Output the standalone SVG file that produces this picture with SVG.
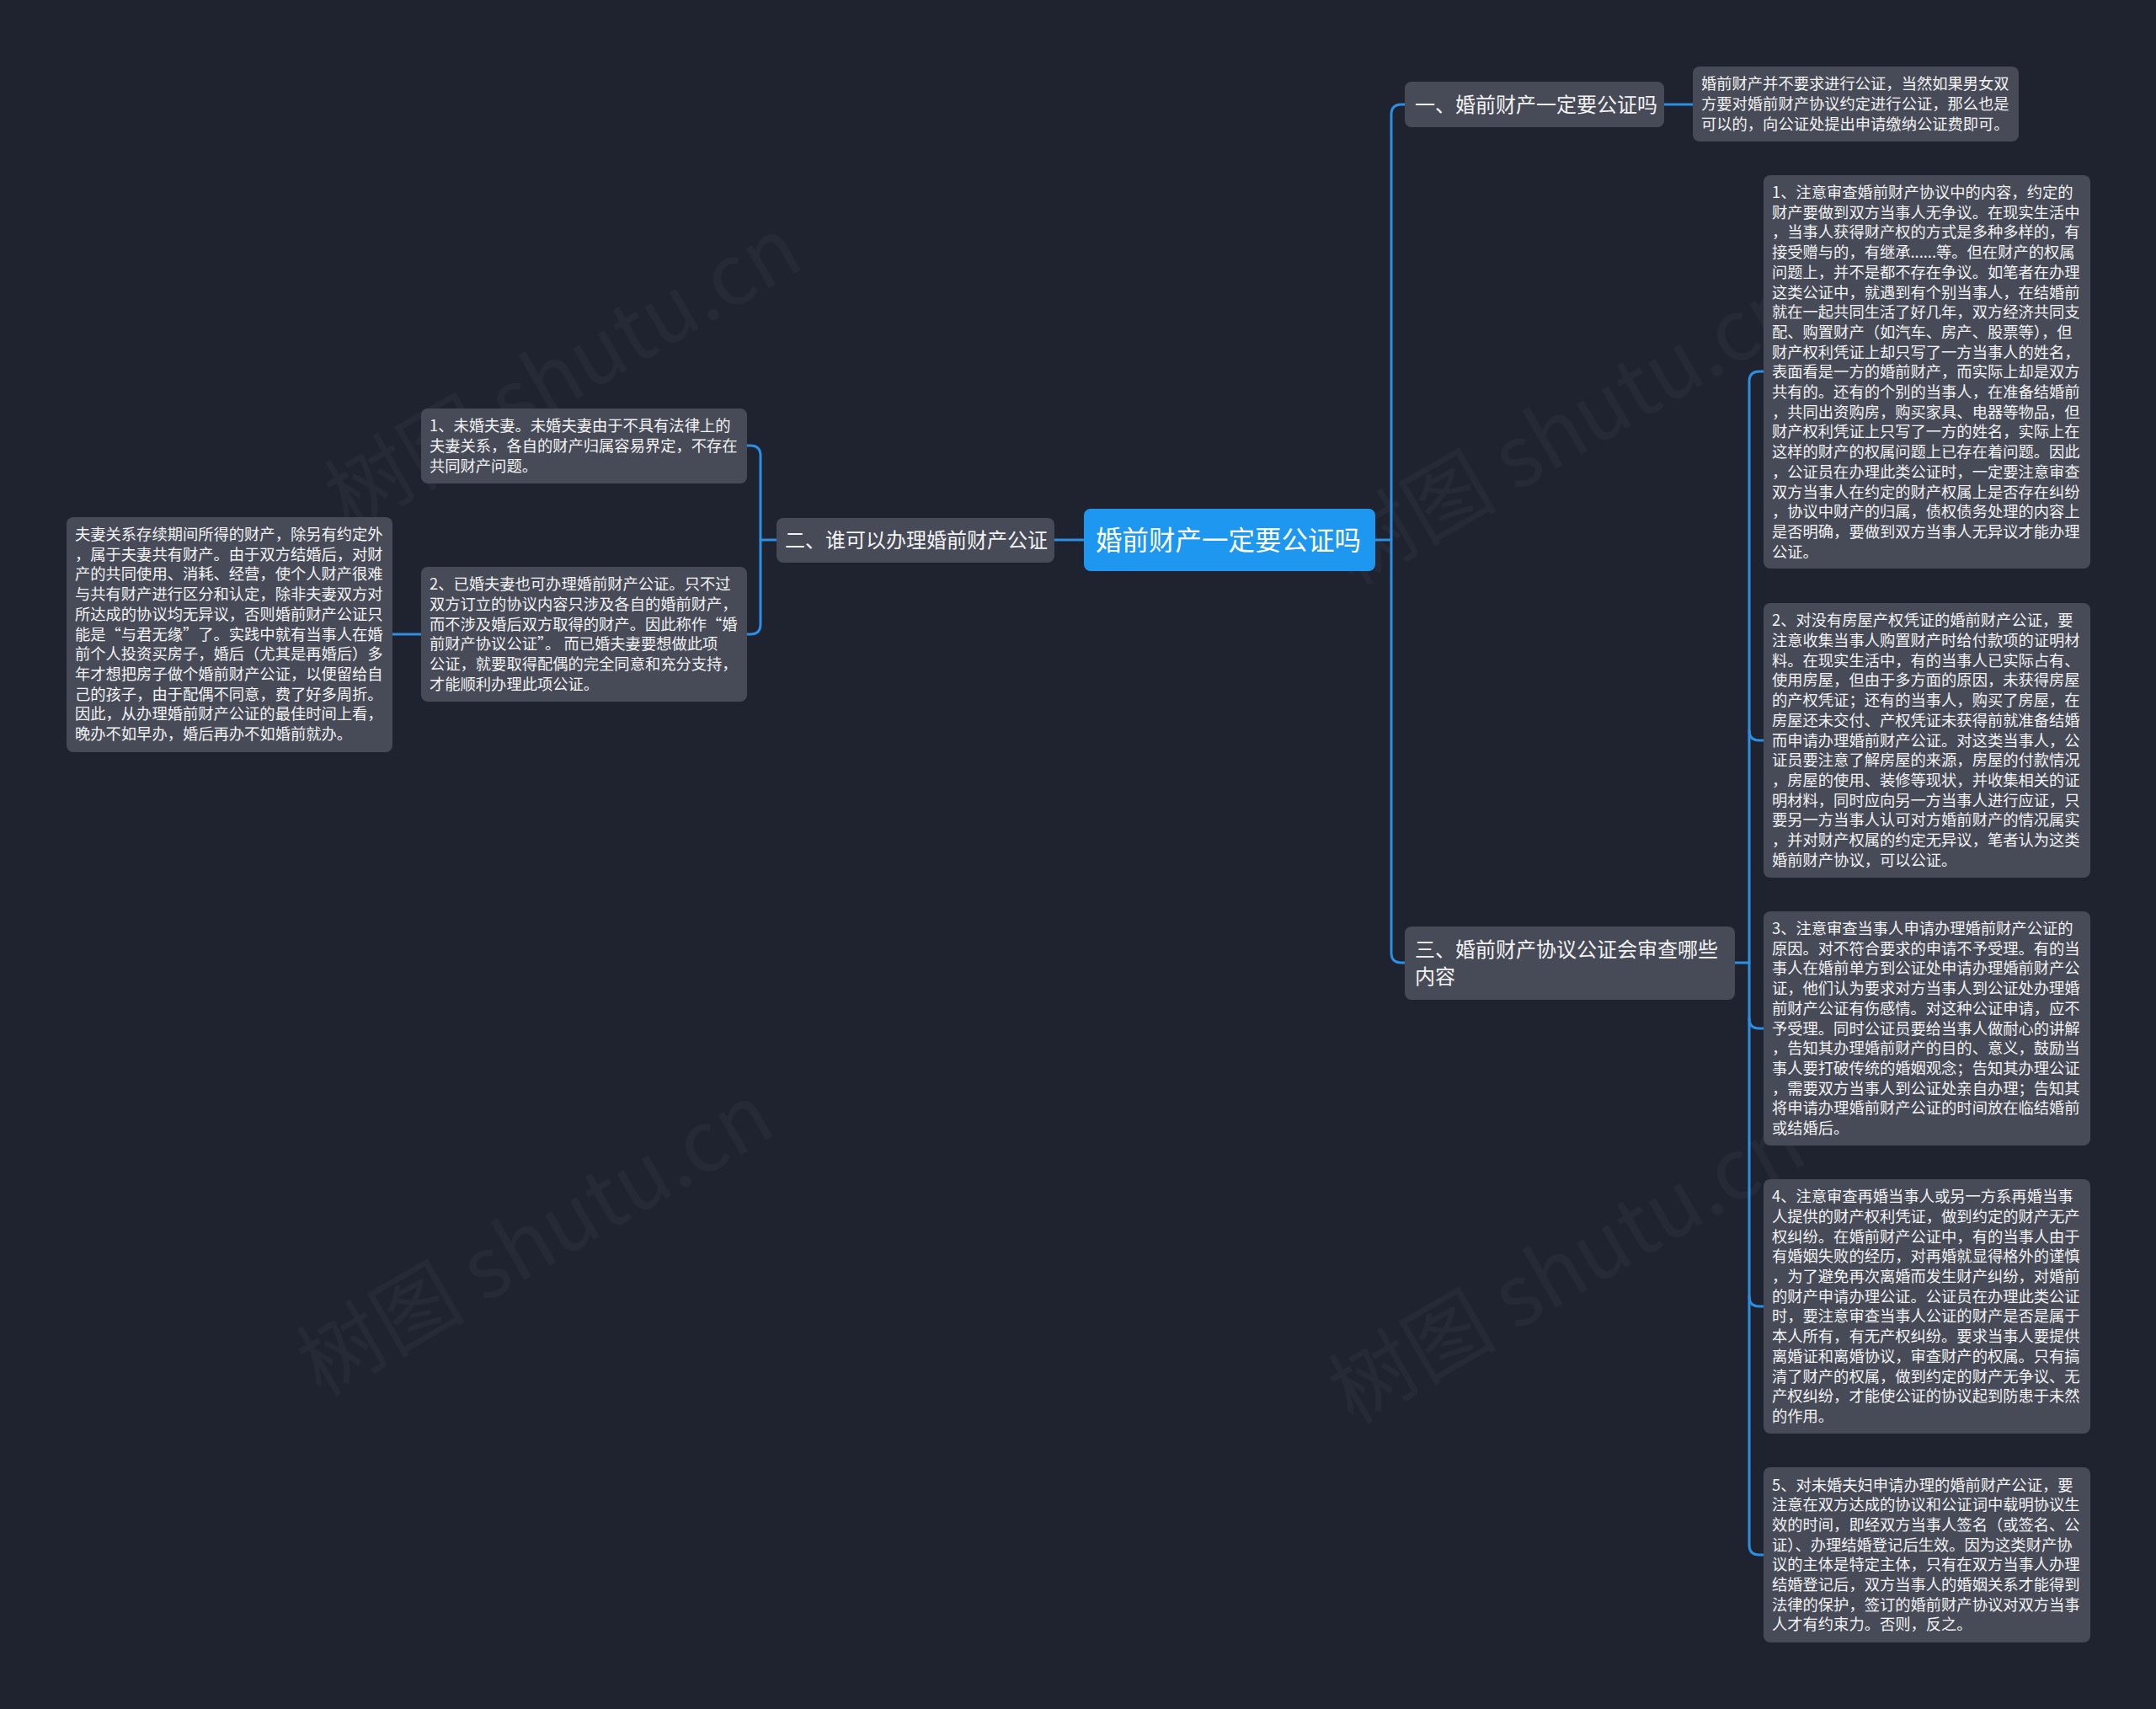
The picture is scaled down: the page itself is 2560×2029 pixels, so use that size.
<svg xmlns="http://www.w3.org/2000/svg" width="2560" height="2029" viewBox="0 0 2560 2029">
<style>
.bg{fill:#1f2330}
.box{fill:#474b58}
.center{fill:#1d97ef}
.t{font-family:"Noto Sans CJK SC","Noto Sans",sans-serif;fill:#f2f2f2}
.leaf{font-size:18.3px}
.br{font-size:24px}
.ct{font-size:31.5px;fill:#ffffff}
.ln{fill:none;stroke:#2b8fe4;stroke-width:3;stroke-linecap:round}
.wm{font-family:"Noto Sans CJK SC","Noto Sans",sans-serif;font-size:100px;fill:#ffffff;fill-opacity:0.035}
</style>
<rect class="bg" x="0" y="0" width="2560" height="2029"/>
<g id="watermarks">
<text class="wm" transform="translate(686,473) rotate(-30)" text-anchor="middle">树图 shutu.cn</text>
<text class="wm" transform="translate(653,1502) rotate(-30)" text-anchor="middle">树图 shutu.cn</text>
<text class="wm" transform="translate(1878,539) rotate(-30)" text-anchor="middle">树图 shutu.cn</text>
<text class="wm" transform="translate(1878,1535) rotate(-30)" text-anchor="middle">树图 shutu.cn</text>
</g>
<g id="connectors">
<path class="ln" d="M1633,641 H1652"/>
<path class="ln" d="M1668,124 H1664 Q1652,124 1652,136 V1131 Q1652,1143 1664,1143 H1668"/>
<path class="ln" d="M1976,124 H2010"/>
<path class="ln" d="M2060,1143 H2077"/>
<path class="ln" d="M2094,441 H2089 Q2077,441 2077,453 V1834 Q2077,1846 2089,1846 H2094"/>
<path class="ln" d="M2077,867 Q2077,879 2089,879 H2094"/>
<path class="ln" d="M2077,1209 Q2077,1221 2089,1221 H2094"/>
<path class="ln" d="M2077,1539 Q2077,1551 2089,1551 H2094"/>
<path class="ln" d="M1287,641 H1252"/>
<path class="ln" d="M922,641 H903"/>
<path class="ln" d="M887,529 H891 Q903,529 903,541 V741 Q903,753 891,753 H887"/>
<path class="ln" d="M500,753 H466"/>
</g>
<g id="root">
<rect class="center" x="1287" y="604" width="346" height="74" rx="8"/>
<text class="t ct" x="1301" y="652.5">婚前财产一定要公证吗</text>
</g>
<g id="branch1">
<rect class="box" x="1668" y="97" width="308" height="54" rx="8"/>
<text class="t br" x="1680" y="133">一、婚前财产一定要公证吗</text>
</g>
<g id="branch2">
<rect class="box" x="922" y="615" width="330" height="53" rx="8"/>
<text class="t br" x="932" y="650">二、谁可以办理婚前财产公证</text>
</g>
<g id="branch3">
<rect class="box" x="1668" y="1100" width="392" height="87" rx="8"/>
<text class="t br" x="1680" y="1136">三、婚前财产协议公证会审查哪些</text>
<text class="t br" x="1680" y="1168">内容</text>
</g>
<g id="leaf-b1">
<rect class="box" x="2010" y="79" width="387" height="89" rx="8"/>
<text class="t leaf" x="2020" y="106.3">婚前财产并不要求进行公证，当然如果男女双</text>
<text class="t leaf" x="2020" y="130">方要对婚前财产协议约定进行公证，那么也是</text>
<text class="t leaf" x="2020" y="153.7">可以的，向公证处提出申请缴纳公证费即可。</text>
</g>
<g id="leaf-b3-1">
<rect class="box" x="2094" y="208" width="388" height="467" rx="8"/>
<text class="t leaf" x="2104" y="235">1、注意审查婚前财产协议中的内容，约定的</text>
<text class="t leaf" x="2104" y="258.7">财产要做到双方当事人无争议。在现实生活中</text>
<text class="t leaf" x="2104" y="282.4">，当事人获得财产权的方式是多种多样的，有</text>
<text class="t leaf" x="2104" y="306.1">接受赠与的，有继承......等。但在财产的权属</text>
<text class="t leaf" x="2104" y="329.8">问题上，并不是都不存在争议。如笔者在办理</text>
<text class="t leaf" x="2104" y="353.5">这类公证中，就遇到有个别当事人，在结婚前</text>
<text class="t leaf" x="2104" y="377.2">就在一起共同生活了好几年，双方经济共同支</text>
<text class="t leaf" x="2104" y="400.9">配、购置财产（如汽车、房产、股票等），但</text>
<text class="t leaf" x="2104" y="424.6">财产权利凭证上却只写了一方当事人的姓名，</text>
<text class="t leaf" x="2104" y="448.3">表面看是一方的婚前财产，而实际上却是双方</text>
<text class="t leaf" x="2104" y="472">共有的。还有的个别的当事人，在准备结婚前</text>
<text class="t leaf" x="2104" y="495.7">，共同出资购房，购买家具、电器等物品，但</text>
<text class="t leaf" x="2104" y="519.4">财产权利凭证上只写了一方的姓名，实际上在</text>
<text class="t leaf" x="2104" y="543.1">这样的财产的权属问题上已存在着问题。因此</text>
<text class="t leaf" x="2104" y="566.8">，公证员在办理此类公证时，一定要注意审查</text>
<text class="t leaf" x="2104" y="590.5">双方当事人在约定的财产权属上是否存在纠纷</text>
<text class="t leaf" x="2104" y="614.2">，协议中财产的归属，债权债务处理的内容上</text>
<text class="t leaf" x="2104" y="637.9">是否明确，要做到双方当事人无异议才能办理</text>
<text class="t leaf" x="2104" y="661.6">公证。</text>
</g>
<g id="leaf-b3-2">
<rect class="box" x="2094" y="716" width="388" height="326" rx="8"/>
<text class="t leaf" x="2104" y="743.3">2、对没有房屋产权凭证的婚前财产公证，要</text>
<text class="t leaf" x="2104" y="767">注意收集当事人购置财产时给付款项的证明材</text>
<text class="t leaf" x="2104" y="790.7">料。在现实生活中，有的当事人已实际占有、</text>
<text class="t leaf" x="2104" y="814.4">使用房屋，但由于多方面的原因，未获得房屋</text>
<text class="t leaf" x="2104" y="838.1">的产权凭证；还有的当事人，购买了房屋，在</text>
<text class="t leaf" x="2104" y="861.8">房屋还未交付、产权凭证未获得前就准备结婚</text>
<text class="t leaf" x="2104" y="885.5">而申请办理婚前财产公证。对这类当事人，公</text>
<text class="t leaf" x="2104" y="909.2">证员要注意了解房屋的来源，房屋的付款情况</text>
<text class="t leaf" x="2104" y="932.9">，房屋的使用、装修等现状，并收集相关的证</text>
<text class="t leaf" x="2104" y="956.6">明材料，同时应向另一方当事人进行应证，只</text>
<text class="t leaf" x="2104" y="980.3">要另一方当事人认可对方婚前财产的情况属实</text>
<text class="t leaf" x="2104" y="1004">，并对财产权属的约定无异议，笔者认为这类</text>
<text class="t leaf" x="2104" y="1027.7">婚前财产协议，可以公证。</text>
</g>
<g id="leaf-b3-3">
<rect class="box" x="2094" y="1082" width="388" height="278" rx="8"/>
<text class="t leaf" x="2104" y="1109">3、注意审查当事人申请办理婚前财产公证的</text>
<text class="t leaf" x="2104" y="1132.7">原因。对不符合要求的申请不予受理。有的当</text>
<text class="t leaf" x="2104" y="1156.4">事人在婚前单方到公证处申请办理婚前财产公</text>
<text class="t leaf" x="2104" y="1180.1">证，他们认为要求对方当事人到公证处办理婚</text>
<text class="t leaf" x="2104" y="1203.8">前财产公证有伤感情。对这种公证申请，应不</text>
<text class="t leaf" x="2104" y="1227.5">予受理。同时公证员要给当事人做耐心的讲解</text>
<text class="t leaf" x="2104" y="1251.2">，告知其办理婚前财产的目的、意义，鼓励当</text>
<text class="t leaf" x="2104" y="1274.9">事人要打破传统的婚姻观念；告知其办理公证</text>
<text class="t leaf" x="2104" y="1298.6">，需要双方当事人到公证处亲自办理；告知其</text>
<text class="t leaf" x="2104" y="1322.3">将申请办理婚前财产公证的时间放在临结婚前</text>
<text class="t leaf" x="2104" y="1346">或结婚后。</text>
</g>
<g id="leaf-b3-4">
<rect class="box" x="2094" y="1400" width="388" height="302" rx="8"/>
<text class="t leaf" x="2104" y="1427.2">4、注意审查再婚当事人或另一方系再婚当事</text>
<text class="t leaf" x="2104" y="1450.9">人提供的财产权利凭证，做到约定的财产无产</text>
<text class="t leaf" x="2104" y="1474.6">权纠纷。在婚前财产公证中，有的当事人由于</text>
<text class="t leaf" x="2104" y="1498.3">有婚姻失败的经历，对再婚就显得格外的谨慎</text>
<text class="t leaf" x="2104" y="1522">，为了避免再次离婚而发生财产纠纷，对婚前</text>
<text class="t leaf" x="2104" y="1545.7">的财产申请办理公证。公证员在办理此类公证</text>
<text class="t leaf" x="2104" y="1569.4">时，要注意审查当事人公证的财产是否是属于</text>
<text class="t leaf" x="2104" y="1593.1">本人所有，有无产权纠纷。要求当事人要提供</text>
<text class="t leaf" x="2104" y="1616.8">离婚证和离婚协议，审查财产的权属。只有搞</text>
<text class="t leaf" x="2104" y="1640.5">清了财产的权属，做到约定的财产无争议、无</text>
<text class="t leaf" x="2104" y="1664.2">产权纠纷，才能使公证的协议起到防患于未然</text>
<text class="t leaf" x="2104" y="1687.9">的作用。</text>
</g>
<g id="leaf-b3-5">
<rect class="box" x="2094" y="1742" width="388" height="208" rx="8"/>
<text class="t leaf" x="2104" y="1769.5">5、对未婚夫妇申请办理的婚前财产公证，要</text>
<text class="t leaf" x="2104" y="1793.2">注意在双方达成的协议和公证词中载明协议生</text>
<text class="t leaf" x="2104" y="1816.9">效的时间，即经双方当事人签名（或签名、公</text>
<text class="t leaf" x="2104" y="1840.6">证）、办理结婚登记后生效。因为这类财产协</text>
<text class="t leaf" x="2104" y="1864.3">议的主体是特定主体，只有在双方当事人办理</text>
<text class="t leaf" x="2104" y="1888">结婚登记后，双方当事人的婚姻关系才能得到</text>
<text class="t leaf" x="2104" y="1911.7">法律的保护，签订的婚前财产协议对双方当事</text>
<text class="t leaf" x="2104" y="1935.4">人才有约束力。否则，反之。</text>
</g>
<g id="leaf-b2-1">
<rect class="box" x="500" y="485" width="387" height="89" rx="8"/>
<text class="t leaf" x="510" y="512.3">1、未婚夫妻。未婚夫妻由于不具有法律上的</text>
<text class="t leaf" x="510" y="536">夫妻关系，各自的财产归属容易界定，不存在</text>
<text class="t leaf" x="510" y="559.7">共同财产问题。</text>
</g>
<g id="leaf-b2-2">
<rect class="box" x="500" y="673" width="387" height="160" rx="8"/>
<text class="t leaf" x="510" y="700.2">2、已婚夫妻也可办理婚前财产公证。只不过</text>
<text class="t leaf" x="510" y="723.9">双方订立的协议内容只涉及各自的婚前财产，</text>
<text class="t leaf" x="510" y="747.6">而不涉及婚后双方取得的财产。因此称作“婚</text>
<text class="t leaf" x="510" y="771.3">前财产协议公证”。 而已婚夫妻要想做此项</text>
<text class="t leaf" x="510" y="795">公证，就要取得配偶的完全同意和充分支持，</text>
<text class="t leaf" x="510" y="818.7">才能顺利办理此项公证。</text>
</g>
<g id="leaf-b2-2-1">
<rect class="box" x="79" y="614" width="387" height="279" rx="8"/>
<text class="t leaf" x="89" y="641">夫妻关系存续期间所得的财产，除另有约定外</text>
<text class="t leaf" x="89" y="664.7">，属于夫妻共有财产。由于双方结婚后，对财</text>
<text class="t leaf" x="89" y="688.4">产的共同使用、消耗、经营，使个人财产很难</text>
<text class="t leaf" x="89" y="712.1">与共有财产进行区分和认定，除非夫妻双方对</text>
<text class="t leaf" x="89" y="735.8">所达成的协议均无异议，否则婚前财产公证只</text>
<text class="t leaf" x="89" y="759.5">能是“与君无缘”了。实践中就有当事人在婚</text>
<text class="t leaf" x="89" y="783.2">前个人投资买房子，婚后（尤其是再婚后）多</text>
<text class="t leaf" x="89" y="806.9">年才想把房子做个婚前财产公证，以便留给自</text>
<text class="t leaf" x="89" y="830.6">己的孩子，由于配偶不同意，费了好多周折。</text>
<text class="t leaf" x="89" y="854.3">因此，从办理婚前财产公证的最佳时间上看，</text>
<text class="t leaf" x="89" y="878">晚办不如早办，婚后再办不如婚前就办。</text>
</g>
</svg>
